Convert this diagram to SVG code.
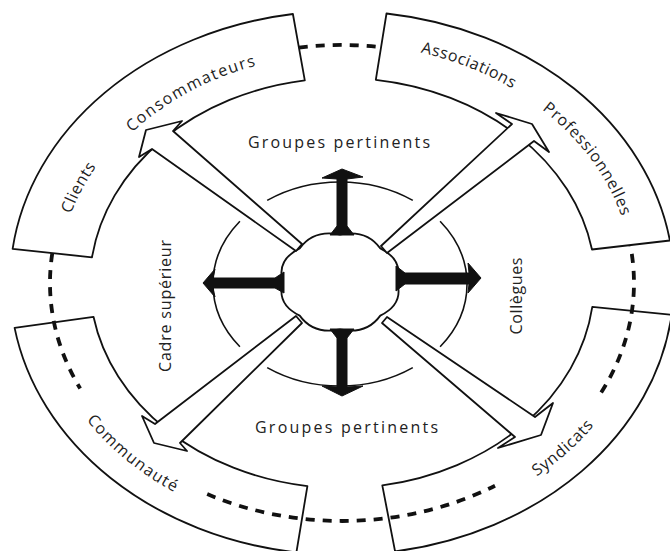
<svg xmlns="http://www.w3.org/2000/svg" width="670" height="551" viewBox="0 0 670 551">
<style>
.band{fill:#fff;stroke:#111;stroke-width:1.8;stroke-linejoin:round}
.ring{fill:none;stroke:#111;stroke-width:1.6}
.dash{fill:none;stroke:#111;stroke-width:3.8;stroke-dasharray:9 8}
.hollow{fill:#fff;stroke:#111;stroke-width:1.8;stroke-linejoin:round}
.solid{fill:#111;stroke:#111;stroke-width:1;stroke-linejoin:round}
.blob{fill:#fff;stroke:#111;stroke-width:1.8}
text{font-family:"Open Sans","Liberation Sans",sans-serif;font-size:16px;fill:#222}
</style>
<defs>
<path id="pClients" d="M58.5,270 A283.9,232.6 0 0 1 135.1,123.8"/>
<path id="pConso" d="M93.7,178.9 A278.9,228.5 0 0 1 327.9,54.8"/>
<path id="pAssoc" d="M348.6,43.7 A292.2,239.4 0 0 1 570,133.3"/>
<path id="pProf" d="M491.5,78.3 A291.2,238.5 0 0 1 632.8,270.1"/>
<path id="pComm" d="M54.7,367.8 A305.4,250.2 0 0 0 236.5,517.8"/>
<path id="pSynd" d="M477.1,508 A306.1,250.8 0 0 0 630,368"/>
</defs>
<rect width="670" height="551" fill="#fff"/>

<g id="connectors">
  <g id="middle-ring">
    <path class="ring" d="M267.2,200.4 A127,102 0 0 1 412.8,200.4"/>
    <path class="ring" d="M239.9,346.8 A127,102 0 0 1 239.9,221.2"/>
    <path class="ring" d="M440.1,221.2 A127,102 0 0 1 440.1,346.8"/>
    <path class="ring" d="M412.8,367.6 A127,102 0 0 1 267.2,367.6"/>
  </g>
</g>

<g id="band-clients">
  <path class="band" d="M12.6,248.9 A332,272 0 0 1 292.9,14 L304.8,80.3 A254,207 0 0 0 92,257.3 Z"/>
  <text><textPath href="#pClients" startOffset="50%" text-anchor="middle" letter-spacing="0.6">Clients</textPath></text>
  <text><textPath href="#pConso" startOffset="48%" text-anchor="middle" letter-spacing="1.5">Consommateurs</textPath></text>
</g>
<g id="band-associations">
  <path class="band" d="M386.5,13.5 A332,272 0 0 1 669.9,240.5 L592,249.5 A254,207 0 0 0 375.8,79.8 Z"/>
  <text><textPath href="#pAssoc" startOffset="50%" text-anchor="middle" letter-spacing="0.6">Associations</textPath></text>
  <text><textPath href="#pProf" startOffset="51%" text-anchor="middle" letter-spacing="0.8">Professionnelles</textPath></text>
</g>
<g id="band-communaute">
  <path class="band" d="M14.6,327.9 A332,272 0 0 0 296.4,552.4 L307.4,486.1 A254,207 0 0 1 93.5,316.8 Z"/>
  <text><textPath href="#pComm" startOffset="49%" text-anchor="middle" letter-spacing="1.3">Communauté</textPath></text>
</g>
<g id="band-syndicats">
  <path class="band" d="M395.1,551.5 A332,272 0 0 0 671.7,314.7 L592.3,306.9 A254,207 0 0 1 382.3,485.4 Z"/>
  <text><textPath href="#pSynd" startOffset="50%" text-anchor="middle" letter-spacing="0.8">Syndicats</textPath></text>
</g>

<g id="dashed-links">
  <path class="dash" d="M298.8,47.6 A292,238 0 0 1 381.1,47.1"/>
  <path class="dash" d="M52.3,253.2 A292,238 0 0 0 80.2,388.5"/>
  <path class="dash" d="M207.2,494.1 A292,238 0 0 0 495,485.7"/>
  <path class="dash" d="M601.2,392.5 A292,238 0 0 0 630.4,245.8"/>
</g>

<g id="center">
  <path class="blob" d="M397,282 Q404,303.9 380.3,315.6 Q366.5,334.8 340,329.5 Q313.5,334.8 299.7,315.6 Q276,303.9 283,282 Q276,260.1 299.7,248.4 Q313.5,229.2 340,234.5 Q366.5,229.2 380.3,248.4 Q404,260.1 397,282 Z"/>
</g>

<g id="arrows">
  <polygon class="hollow" points="146,130 182,121 173,131 302,244 296,251 152,149 139,157"/>
  <polygon class="hollow" points="532,124 549,152 534,141 387,253 381,246 512,124 496,113"/>
  <polygon class="hollow" points="154,443 142,416 155,424 296,316 302,323 180,443 187,451"/>
  <polygon class="hollow" points="541,435 498,448 515,437 382,323 387,317 535,417 553,403"/>
  <polygon class="solid" points="342,169 363,177 347,179 347,226 354,235 330,235 337,226 337,179 322,178"/>
  <polygon class="solid" points="342,396 363,386 347,387 347,338 354,329 330,329 337,338 337,387 322,386"/>
  <polygon class="solid" points="203,283 215,269 213,278 275,278 284,272 284,293 275,288 213,288 215,297"/>
  <polygon class="solid" points="481,278 468,263 469,273 405,273 396,266 396,291 405,284 469,284 468,293"/>
</g>

<g id="labels">
  <text x="339" y="148" text-anchor="middle" textLength="182" lengthAdjust="spacing">Groupes pertinents</text>
  <text x="346.5" y="433" text-anchor="middle" textLength="183" lengthAdjust="spacing">Groupes pertinents</text>
  <text x="171" y="306" text-anchor="middle" transform="rotate(-90 171 306)" textLength="132" lengthAdjust="spacing">Cadre supérieur</text>
  <text x="522" y="296" text-anchor="middle" transform="rotate(-90 522 296)" textLength="77" lengthAdjust="spacing">Collègues</text>
</g>
</svg>
